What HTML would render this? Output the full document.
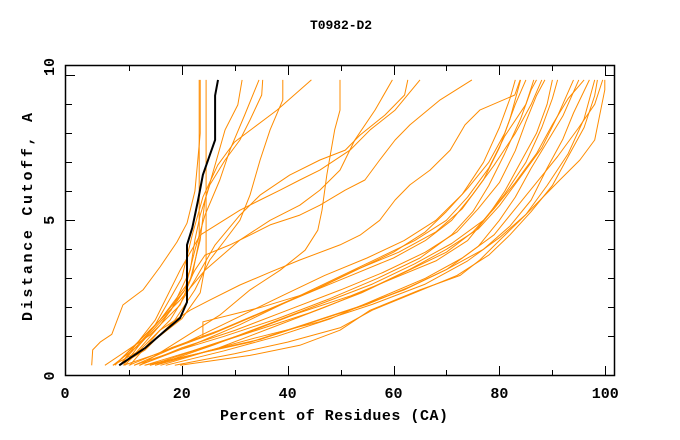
<!DOCTYPE html>
<html><head><meta charset="utf-8"><style>
body{margin:0;background:#fff}
svg{display:block}
text{font-family:"Liberation Mono",monospace;font-weight:bold;font-size:15px;fill:#000}
</style></head><body>
<svg id="chart" width="680" height="440" xmlns="http://www.w3.org/2000/svg">
<text x="341" y="29" text-anchor="middle" style="font-size:13px" textLength="62">T0982-D2</text>
<g id="lines"></g>
<rect x="65.5" y="65.5" width="549" height="310" fill="none" stroke="#000" stroke-width="1.5"/>
<g id="ticks"></g>
<text x="334" y="420" text-anchor="middle" textLength="228">Percent of Residues (CA)</text>
<text transform="translate(32,217) rotate(-90)" text-anchor="middle" textLength="208">Distance Cutoff, A</text>
</svg>
<script>
const xTicks=[10,20,30,40,50,60,70,80,90,100];
const xTickLabels=["0","20","40","60","80","100"];
const xLabelVals=[null,20,40,60,80,100];
const yTicks=[1,2,3,4,5,6,7,8,9,10];
const yTickLabels=["0","5","10"];
const blackCurve=[[8.2,0],[13.1,0.6],[16.9,1.2],[19.7,1.63],[21,2.18],[21,4.15],[22,4.74],[23.1,5.7],[24,6.57],[25.3,7.25],[26.3,7.77],[26.3,9.3],[26.85,9.84]];
const upperCurves=[
[[23.3,9.84],[23.3,4.32],[22,3.1],[19.7,2.08],[14,1.04],[5.5,0]],
[[24.6,9.84],[24.6,3.6],[23.5,2.5],[20,1.6],[13,0.6],[7,0]],
[[31.4,9.84],[30.6,8.98],[28.2,8.12],[26.3,6.91],[24.4,5.7],[23.5,4.32],[21.6,2.94],[15.9,1.56],[8.3,0]],
[[34.6,9.84],[31.9,8.63],[29.1,7.42],[27.2,6.39],[24.4,5.18],[22.5,3.97],[20.6,2.6],[15.9,1.38],[9.3,0]],
[[35.3,9.84],[35.1,9.32],[32.9,8.46],[31,7.77],[28.2,7.08],[25.3,6.22],[23.5,5.18],[22.5,4.32],[21.6,3.28],[18,1.9],[12,0.7],[7,0]],
[[39.1,9.84],[39.1,9.15],[36.7,8.12],[34.8,7.08],[32.9,5.87],[31,5.0],[28.2,4.32],[25.3,3.63],[22.5,2.6],[18.7,1.56],[13.1,0.53],[8.3,0]],
[[44.5,9.84],[38,8.8],[30,7.7],[26.8,6.9],[24,5.8],[22,4.5],[20,3],[15,1.4],[9,0]],
[[49.9,9.84],[49.9,8.8],[48.9,8.12],[47.4,6.56],[46.5,5.35],[45.7,4.66],[43.3,3.97],[38.6,3.28],[32.9,2.6],[27.2,1.73],[19.7,0.87],[12.1,0]],
[[59.8,9.84],[56.5,8.8],[52.7,7.77],[49.9,6.73],[46.1,6.04],[42.3,5.52],[36.7,5.0],[31,4.32],[24.4,3.28],[19.7,2.25],[14,1.21],[7.4,0]],
[[62.7,9.84],[62.1,9.32],[58.4,8.63],[53.7,7.94],[50.9,7.42],[46.1,7.08],[40.4,6.56],[34.8,5.87],[31,5.18],[26.3,4.15],[22.5,2.94],[17.8,1.56],[10.2,0.18]],
[[65,9.84],[60.3,8.8],[55.6,8.12],[51.8,7.42],[46.1,6.73],[42.3,6.39],[38.6,6.04],[34.8,5.7],[31,5.35],[23.5,4.49],[19.7,3.28],[15,1.56],[8.3,0]],
[[74.8,9.84],[68.8,9.15],[63.1,8.29],[60.3,7.77],[57.4,7.08],[54.6,6.39],[50.9,6.04],[46.1,5.52],[42.3,5.18],[36.7,4.84],[32.9,4.49],[29.1,4.15],[24.4,3.8],[22.5,3.28],[20.6,2.6],[15.9,1.56],[8.3,0.18]],
[[83.9,9.84],[82.9,9.32],[76.3,8.8],[73.5,8.29],[70.7,7.42],[66.9,6.73],[63.1,6.22],[60.3,5.7],[57.4,5.0],[53.7,4.49],[49.9,4.15],[42.3,3.63],[36.7,3.21],[31,2.77],[25.3,2.25],[21.6,1.9],[15.9,1.21],[10.2,0]],
[[3.0,0],[3.2,0.53],[4.6,0.8],[6.8,1.07],[8.9,2.08],[12.7,2.6],[15.9,3.39],[19.1,4.25],[21,4.9],[22.5,6],[23,7],[23.5,8],[23.5,9.84]]
];
const lowerCurves=[
[[19.7,0],[32.9,0.34],[42.3,0.69],[49.9,1.21],[55.6,1.9],[65,2.6],[72.6,3.1],[76.3,3.63],[80.1,4.32],[83.9,5],[87.7,5.7],[91.4,6.39],[95.2,7.08],[98,7.77],[99.9,9.5],[99.9,9.84]],
[[18.7,0],[30,0.4],[40,0.8],[50,1.3],[56,1.9],[64,2.5],[72,3.1],[78,3.8],[82,4.5],[86,5.3],[90,6.2],[93,7.2],[96,8.2],[98,9.3],[98.5,9.84]],
[[15,0],[25,0.5],[35,0.9],[45,1.5],[55,2.1],[63,2.7],[70,3.3],[76,4.1],[80,5.0],[83,5.8],[86,6.8],[89,7.7],[92,8.6],[95,9.84]],
[[13,0],[22,0.5],[32,1.1],[42,1.8],[52,2.4],[60,3.0],[68,3.6],[74,4.3],[78,5.2],[81,6.0],[84,7.0],[87,8.0],[89,9.0],[90,9.84]],
[[12,0],[20,0.6],[30,1.2],[40,1.9],[50,2.6],[58,3.2],[66,3.9],[72,4.6],[76,5.4],[80,6.3],[83,7.4],[85,8.4],[87,9.3],[88.6,9.84]],
[[14,0],[24,0.6],[34,1.2],[44,1.8],[54,2.5],[62,3.2],[70,3.9],[75,4.6],[79,5.4],[83,6.3],[87,7.3],[90,8.3],[93,9.2],[96,9.84]],
[[11,0],[19,0.5],[28,1.0],[38,1.6],[48,2.3],[57,3.0],[65,3.7],[71,4.5],[75,5.3],[78,6.2],[81,7.3],[84,8.5],[86,9.5],[87,9.84]],
[[16,0],[27,0.6],[37,1.3],[47,2.0],[55,2.6],[63,3.3],[70,4.0],[76,4.7],[80,5.5],[84,6.5],[88,7.5],[91,8.6],[94,9.84]],
[[10,0],[18,0.6],[27,1.2],[36,1.9],[45,2.6],[53,3.3],[61,3.9],[68,4.6],[73,5.4],[77,6.4],[80,7.5],[82,8.5],[84,9.84]],
[[13,0],[23,0.4],[33,0.8],[43,1.4],[53,2.0],[62,2.6],[70,3.3],[77,4.0],[82,4.8],[86,5.7],[89,6.8],[92,7.8],[94,8.7],[97,9.84]],
[[9,0],[17,0.5],[26,1.1],[35,1.8],[44,2.5],[52,3.2],[60,3.9],[66,4.6],[70,5.3],[74,6.1],[78,7.0],[81,8.0],[83,9.0],[85,9.84]],
[[15,0],[26,0.7],[36,1.4],[46,2.1],[56,2.8],[64,3.5],[71,4.2],[77,5.0],[81,5.9],[85,7.0],[88,8.2],[90,9.2],[91,9.84]],
[[12,0],[22,0.7],[31,1.4],[40,2.2],[48,2.9],[56,3.6],[64,4.3],[70,5.0],[74,5.8],[78,6.8],[81,7.9],[85,9.0],[86.5,9.84]],
[[17,0],[28,0.5],[38,1.0],[48,1.6],[57,2.3],[66,3.0],[73,3.7],[79,4.5],[83,5.4],[87,6.3],[91,7.2],[95,8.2],[98,9.0],[99.5,9.84]],
[[24,1.0],[24,1.5],[35,2.0],[44,2.5],[52,3.1],[60,3.7],[66,4.3],[71,5.0],[75,5.9],[79,6.9],[83,8.0],[86,9.0],[88,9.84]],
[[11,0],[21,0.8],[30,1.6],[39,2.4],[47,3.1],[55,3.7],[62,4.3],[68,5.0],[73,5.9],[77,7.0],[80,8.2],[82,9.2],[83,9.84]],
[[14,0],[24,0.45],[34,0.95],[46,1.5],[56,2.1],[66,2.8],[74,3.6],[80,4.4],[85,5.2],[89,6.2],[93,7.3],[96,8.5],[98,9.84]]
];
const NS="http://www.w3.org/2000/svg";
function sx(v){return 75.8+v*5.295;}
function sy(v){return 365.3-v*29;}
const gl=document.getElementById('lines');
function draw(c,color,w,name){
  const p=document.createElementNS(NS,'polyline');
  p.setAttribute('points',c.map(q=>sx(q[0]).toFixed(1)+','+sy(q[1]).toFixed(1)).join(' '));
  p.setAttribute('fill','none');p.setAttribute('stroke',color);p.setAttribute('stroke-width',w);
  p.setAttribute('stroke-linejoin','round');
  
  
  gl.appendChild(p);
}
upperCurves.forEach(c=>draw(c,'#ff8c00',1,'model-curve'));
lowerCurves.forEach(c=>draw(c,'#ff8c00',1,'model-curve'));
draw(blackCurve,'#000',2,'target-curve');
const gt=document.getElementById('ticks');
function ln(x1,y1,x2,y2,name){
  const l=document.createElementNS(NS,'line');
  l.setAttribute('x1',x1);l.setAttribute('y1',y1);l.setAttribute('x2',x2);l.setAttribute('y2',y2);
  l.setAttribute('stroke','#000');l.setAttribute('stroke-width',1);
  
  
  gt.appendChild(l);
}
xTicks.forEach(v=>{const x=Math.round(sx(v))+0.5;const L=(v%20===0)?10:6;
  ln(x,376,x,376-L,'x-tick');ln(x,65,x,65+L,'x-tick-top');});
yTicks.forEach(v=>{const y=Math.round(sy(v))+0.5;const L=(v%5===0)?10:7;
  ln(65,y,65+L,y,'y-tick');ln(615,y,615-L,y,'y-tick-right');});
function txt(s,x,y,anchor,rot,name){
  const t=document.createElementNS(NS,'text');t.textContent=s;
  if(rot){t.setAttribute('transform','translate('+x+','+y+') rotate(-90)');}
  else{t.setAttribute('x',x);t.setAttribute('y',y);}
  t.setAttribute('text-anchor',anchor);
  
  
  document.getElementById('chart').appendChild(t);
}
xTickLabels.forEach((s,i)=>{const v=xLabelVals[i];const x=v===null?65:sx(v);txt(s,x,398,'middle',false,'x-tick-label');});
const yLabPos=[376,sy(5),67];
yTickLabels.forEach((s,i)=>txt(s,54,yLabPos[i],'middle',true,'y-tick-label'));
</script>
</body></html>
